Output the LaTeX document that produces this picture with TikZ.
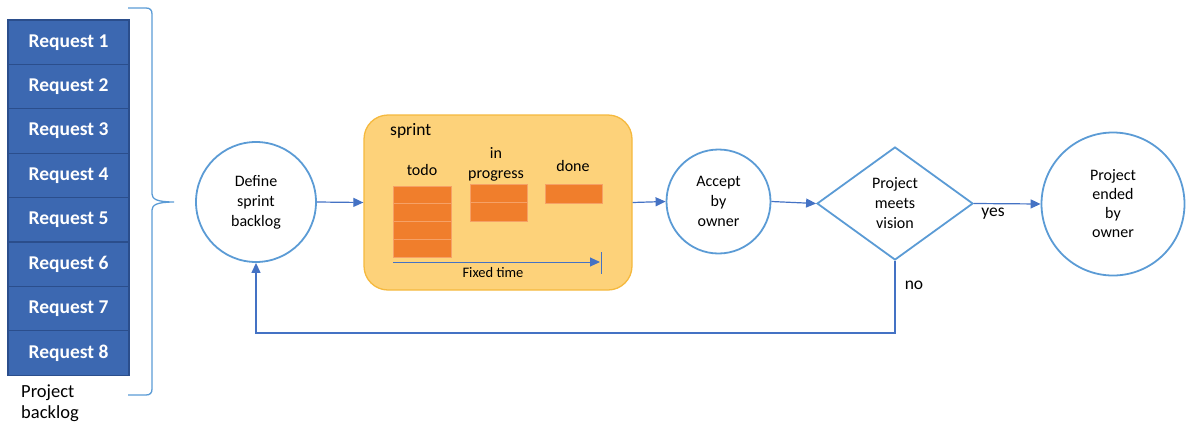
\documentclass[tikz,border=0pt]{standalone}
\usepackage{fontspec}
\setmainfont{Carlito}
\usetikzlibrary{arrows.meta,shapes.geometric}
\definecolor{reqfill}{HTML}{3C68B1}
\definecolor{reqdraw}{HTML}{2B4E8C}
\definecolor{circblue}{HTML}{5B9BD5}
\definecolor{arrblue}{HTML}{4472C4}
\definecolor{sprfill}{HTML}{FDD27A}
\definecolor{sprdraw}{HTML}{F5B93E}
\definecolor{orfill}{HTML}{F07E2C}
\definecolor{orline}{HTML}{F6A166}
\tikzset{
  req/.style={draw=reqdraw, line width=1.2pt, fill=reqfill, text=white,
    minimum width=121pt, minimum height=44.4pt, inner sep=0pt,
    font=\fontsize{19.5}{20}\selectfont\bfseries},
  circ/.style={circle, draw=circblue, line width=1.8pt, inner sep=0pt,
    align=center, font=\fontsize{16}{20}\selectfont},
  arr/.style={draw=arrblue, line width=1.2pt, -{Triangle[length=10pt,width=9pt]}},
  lbl/.style={inner sep=0pt, font=\fontsize{17.5}{20}\selectfont},
  slbl/.style={inner sep=0pt, align=center, font=\fontsize{16}{20}\selectfont},
  stripe/.style={draw=orline, line width=0.8pt, fill=orfill},
}
\begin{document}
\begin{tikzpicture}[x=1pt,y=-1pt]
\useasboundingbox (0,0) rectangle (1186,426);
% project backlog
\foreach \i in {1,...,8}{
  \node[req] (r\i) at (68.5,{20+44.4*(\i-0.5)}) {Request \i};
}
\node[lbl, anchor=west, align=left, font=\fontsize{18.5}{20.5}\selectfont] (pb) at (21,403) {Project\\backlog};
% brace
\coordinate (btip) at (174,202);
\draw[circblue, line width=1.3pt] (128,8) -- (146,8) .. controls (150,8) and (152,10) .. (152,14)
  -- (152,194) .. controls (152,199) and (157,202) .. (btip)
  .. controls (157,202) and (152,205) .. (152,210)
  -- (152,389) .. controls (152,393) and (150,395) .. (146,395) -- (128,395);
% define sprint backlog
\node[circ, minimum size=120pt] (def) at (256,202) {Define\\sprint\\backlog};
% sprint box
\node[draw=sprdraw, line width=1.3pt, fill=sprfill, rounded corners=24pt,
  minimum width=268pt, minimum height=175pt] (spr) at (498,202.5) {};
\node[lbl, anchor=west] (sprlbl) at (390,131) {sprint};
\node[slbl] (todo) at (422,170) {todo};
\node[slbl] (inprog) at (496,164) {in\\progress};
\node[slbl] (done) at (573,166) {done};
% orange stacks
\foreach \k in {0,...,3}{
  \draw[stripe] (393,{186+17.75*\k}) rectangle (451,{186+17.75*(\k+1)});
}
\foreach \k in {0,...,1}{
  \draw[stripe] (470,{184+18.5*\k}) rectangle (527,{184+18.5*(\k+1)});
}
\draw[stripe] (545,184) rectangle (602,203);
% fixed time
\coordinate (ftA) at (393,262);
\coordinate (ftB) at (600,262);
\coordinate (ftT) at (601,252);
\coordinate (ftU) at (601,274);
\draw[arr, line width=1pt] (ftA) -- (ftB);
\draw[draw=arrblue, line width=1pt] (ftT) -- (ftU);
\node[inner sep=0pt, font=\fontsize{14.5}{16}\selectfont] (ft) at (493,273) {Fixed time};
% accept
\node[circ, minimum size=104pt] (acc) at (718.5,201.5) {Accept\\by\\owner};
% diamond
\node[diamond, draw=circblue, line width=1.8pt, inner sep=0pt, aspect=1.38,
  minimum width=156pt, minimum height=113pt, align=center,
  font=\fontsize{16}{20}\selectfont] (dia) at (895,203.5) {Project\\meets\\vision};
% ended
\node[circ, minimum size=143pt, font=\fontsize{16}{19}\selectfont] (end) at (1113,204) {Project\\ended\\by\\owner};
% connectors
\draw[arr] (def.east) -- (spr.west);
\draw[arr] (spr.east) -- (acc.west);
\draw[arr] (acc.east) -- (dia.west);
\draw[arr] (dia.east) -- (end.west);
\node[lbl] (yes) at (993,214) {yes};
\coordinate (loopA) at (895,333);
\draw[arr] (dia.south) -- (loopA) -| (def.south);
\node[lbl] (no) at (914,285) {no};
\end{tikzpicture}
\end{document}
